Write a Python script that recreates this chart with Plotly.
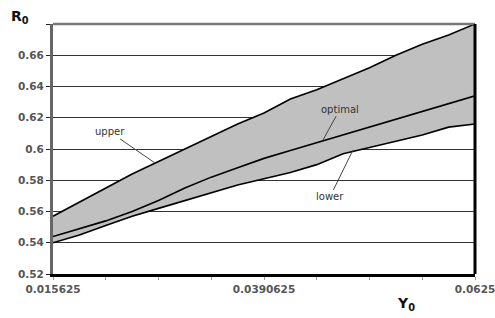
import plotly.graph_objects as go

# Data
y0_values = [0.015625 + i * 0.0029296875 for i in range(17)]
upper = [0.557, 0.566, 0.575, 0.584, 0.592, 0.600, 0.608, 0.616, 0.623,
         0.632, 0.638, 0.645, 0.652, 0.660, 0.667, 0.673, 0.680]
optimal = [0.544, 0.549, 0.554, 0.560, 0.567, 0.575, 0.582, 0.588, 0.594,
           0.599, 0.604, 0.609, 0.614, 0.619, 0.624, 0.629, 0.634]
lower = [0.540, 0.545, 0.551, 0.557, 0.562, 0.567, 0.572, 0.577, 0.581,
         0.585, 0.590, 0.597, 0.601, 0.605, 0.609, 0.614, 0.616]

x_tickvals = [0.015625 + i * 0.005859375 for i in range(9)]
x_ticktext = ["0.015625", "", "", "", "0.0390625", "", "", "", "0.0625"]
y_tickvals = [0.52, 0.54, 0.56, 0.58, 0.60, 0.62, 0.64, 0.66, 0.68]
y_ticktext = ["0.52", "0.54", "0.56", "0.58", "0.6", "0.62", "0.64", "0.66", ""]

FONT = "DejaVu Sans, Arial, sans-serif"
line_style = dict(color="black", width=1.6)

fig = go.Figure()
fig.add_trace(go.Scatter(x=y0_values, y=lower, mode="lines", line=line_style,
                         name="lower", showlegend=False))
fig.add_trace(go.Scatter(x=y0_values, y=upper, mode="lines", line=line_style,
                         fill="tonexty", fillcolor="#c0c0c0",
                         name="upper", showlegend=False))
fig.add_trace(go.Scatter(x=y0_values, y=optimal, mode="lines", line=line_style,
                         name="optimal", showlegend=False))

label_font = dict(family=FONT, size=10, color="#333")
annots = [
    dict(text="upper", x=0.02696, y=0.591, ax=0.02196, ay=0.6109),
    dict(text="optimal", x=0.04562, y=0.6058, ax=0.0475, ay=0.6255),
    dict(text="lower", x=0.04895, y=0.5994, ax=0.04639, ay=0.5693),
]
for a in annots:
    fig.add_annotation(x=a["x"], y=a["y"], ax=a["ax"], ay=a["ay"],
                       xref="x", yref="y", axref="x", ayref="y",
                       text=a["text"], showarrow=True, arrowhead=0,
                       arrowwidth=1, arrowcolor="#444", font=label_font,
                       standoff=0, startstandoff=0)

fig.add_annotation(text="<b>R<sub>0</sub></b>", xref="paper", yref="paper",
                   x=-0.105, y=1.07, xanchor="left", yanchor="top",
                   showarrow=False,
                   font=dict(family=FONT, size=14, color="#111"))
fig.add_annotation(text="<b>Y<sub>0</sub></b>", xref="paper", yref="paper",
                   x=0.81, y=-0.075, xanchor="left", yanchor="top",
                   showarrow=False,
                   font=dict(family=FONT, size=14, color="#111"))

# frame lines (top gray, right black)
fig.add_shape(type="line", xref="paper", yref="paper", x0=0, x1=1, y0=1, y1=1,
              line=dict(color="#777", width=2.5))
fig.add_shape(type="line", xref="paper", yref="paper", x0=1, x1=1, y0=0, y1=1,
              line=dict(color="black", width=3))

tick_font = dict(family=FONT, size=10.5, color="#555", weight="bold")
fig.update_layout(
    width=495, height=318,
    margin=dict(l=53, r=20, t=24, b=44, autoexpand=False),
    plot_bgcolor="white", paper_bgcolor="white",
    xaxis=dict(range=[0.015625, 0.0625], tickvals=x_tickvals, ticktext=x_ticktext,
               showgrid=False, zeroline=False, showline=True, linecolor="black",
               linewidth=3, ticks="outside", ticklen=3, tickcolor="#999",
               tickfont=tick_font, ticklabeloverflow="allow", automargin=False),
    yaxis=dict(range=[0.52, 0.68], tickvals=y_tickvals, ticktext=y_ticktext,
               showgrid=True, gridcolor="#333", gridwidth=1.3, zeroline=False,
               showline=True, linecolor="#666", linewidth=3, ticks="outside",
               ticklen=4, tickcolor="#222", tickfont=tick_font, automargin=False),
)

fig.write_html("out.html",
               config={"displayModeBar": False},
               post_script="document.body.style.margin='0';document.body.style.overflow='hidden';")
